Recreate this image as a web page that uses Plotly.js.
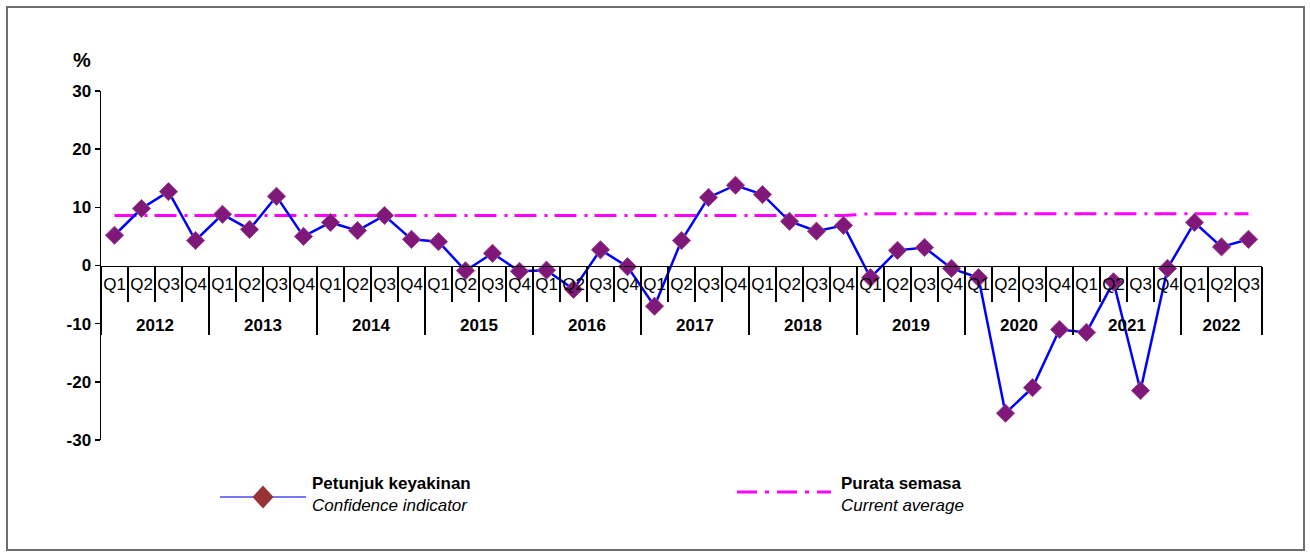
<!DOCTYPE html>
<html>
<head>
<meta charset="utf-8">
<script src="https://cdn.plot.ly/plotly-3.0.1.min.js"></script>
<style>
  html, body { margin: 0; padding: 0; background: #fff; }
  #chart { width: 1310px; height: 552px; }
</style>
</head>
<body>
<div id="chart"></div>
<script>
// tick labels
const years = ["2012", "2013", "2014", "2015", "2016", "2017", "2018", "2019", "2020", "2021", "2022"];
const quarters = ["Q1", "Q2", "Q3", "Q4"];
const yTickVals = [-30, -20, -10, 0, 10, 20, 30];
const yTickText = ["-30", "-20", "-10", "0", "10", "20", "30"];

// Petunjuk keyakinan / Confidence indicator (%), 2012Q1 .. 2022Q3
const confidence = [
  5.2, 9.8, 12.7, 4.3,
  8.8, 6.2, 11.9, 5.0,
  7.4, 6.0, 8.6, 4.5,
  4.1, -0.9, 2.1, -1.0,
  -0.8, -4.1, 2.7, -0.2,
  -7.0, 4.3, 11.7, 13.8,
  12.2, 7.6, 5.9, 6.9,
  -2.1, 2.6, 3.1, -0.5,
  -2.1, -25.4, -21.0, -11.0,
  -11.5, -2.8, -21.5, -0.5,
  7.4, 3.2, 4.5
];

// Purata semasa / Current average (%)
const currentAvg = [
  8.6, 8.6, 8.6, 8.6,
  8.6, 8.6, 8.6, 8.6,
  8.6, 8.6, 8.6, 8.6,
  8.6, 8.6, 8.6, 8.6,
  8.6, 8.6, 8.6, 8.6,
  8.6, 8.6, 8.6, 8.6,
  8.6, 8.6, 8.6, 8.6,
  8.9, 8.9, 8.9, 8.9,
  8.9, 8.9, 8.9, 8.9,
  8.9, 8.9, 8.9, 8.9,
  8.9, 8.9, 8.9
];

// two-level category labels (year / quarter) for every point
// (the leading <br> drops the year row down, as in the original)
const yearLabels = [];
const qLabels = [];
confidence.forEach((v, i) => {
  yearLabels.push("<br><b>" + years[Math.floor(i / 4)] + "</b>");
  qLabels.push(quarters[i % 4]);
});

const font = "Liberation Sans, Arial, sans-serif";

// plot area in pixels: left 101, right 1262, top 91, bottom 440
const L = 101, R = 1262, T = 91, B = 440;
const px = (x) => (x - L) / (R - L);
const py = (y) => (B - y) / (B - T);

const traces = [
  // invisible trace so the separator axis gets drawn
  {
    x: [0, confidence.length - 1],
    y: [0, 0],
    xaxis: "x2",
    mode: "lines",
    line: { width: 0 },
    hoverinfo: "skip",
  },
  {
    x: [yearLabels, qLabels],
    y: currentAvg,
    name: "Purata semasa",
    mode: "lines",
    type: "scatter",
    line: { color: "#FF00FF", width: 3, dash: "22px,8px,3px,7px" },
  },
  {
    x: [yearLabels, qLabels],
    y: confidence,
    name: "Petunjuk keyakinan",
    mode: "lines+markers",
    type: "scatter",
    line: { color: "#0000FF", width: 2.5 },
    marker: {
      symbol: "diamond",
      size: 14,
      color: "#80187A",
      line: { color: "#9C4A90", width: 1 },
    },
  },
];

// hand-made legend (sample line + diamond, two-line labels)
const dx = 10.5, dy = 11.5, cx = 263, cy = 497;
const diamondPath =
  "M " + px(cx) + "," + py(cy - dy) +
  " L " + px(cx + dx) + "," + py(cy) +
  " L " + px(cx) + "," + py(cy + dy) +
  " L " + px(cx - dx) + "," + py(cy) + " Z";

const shapes = [
  // outer frame
  {
    type: "rect", xref: "paper", yref: "paper",
    x0: px(7), x1: px(1304), y0: py(7), y1: py(550),
    line: { color: "#6E6E6E", width: 2 },
  },
  {
    type: "line", xref: "paper", yref: "paper",
    x0: px(220), x1: px(306), y0: py(497), y1: py(497),
    line: { color: "#4B4BF0", width: 1.5 },
  },
  {
    type: "path", xref: "paper", yref: "paper", path: diamondPath,
    fillcolor: "#993333", line: { color: "#993333", width: 0 },
  },
  {
    type: "line", xref: "paper", yref: "paper",
    x0: px(737), x1: px(831), y0: py(492), y1: py(492),
    line: { color: "#FF00FF", width: 3, dash: "20px,8px,4px,8px" },
  },
];

const note = (text, x, y, size, anchor) => ({
  text: text, xref: "paper", yref: "paper",
  x: px(x), y: py(y), xanchor: anchor, yanchor: "middle", showarrow: false,
  font: { family: font, size: size, color: "#000" },
});

const annotations = [
  note("<b>%</b>", 82, 60, 20, "center"),
  note("<b>Petunjuk keyakinan</b>", 310, 483, 17, "left"),
  note("<i>Confidence indicator</i>", 310, 505, 17, "left"),
  note("<b>Purata semasa</b>", 839, 483, 17, "left"),
  note("<i>Current average</i>", 839, 505, 17, "left"),
];

const layout = {
  width: 1310,
  height: 552,
  margin: { l: L, r: 1310 - R, t: T, b: 552 - B, pad: 0 },
  paper_bgcolor: "#FFFFFF",
  plot_bgcolor: "#FFFFFF",
  showlegend: false,
  xaxis: {
    type: "multicategory",
    range: [-0.5, confidence.length - 0.5],
    anchor: "free",
    position: 0.5,
    showline: true,
    linecolor: "#000",
    linewidth: 1.5,
    ticks: "",
    tickangle: 0,
    ticklabelstandoff: 3,
    showgrid: false,
    zeroline: false,
    showdividers: true,
    dividercolor: "#000",
    dividerwidth: 1.5,
    tickfont: { family: font, size: 17, color: "#000" },
  },
  // second x axis only for the short separators between quarters
  xaxis2: {
    overlaying: "x",
    anchor: "free",
    position: 0.5,
    range: [-0.5, confidence.length - 0.5],
    tick0: -0.5,
    dtick: 1,
    ticks: "outside",
    ticklen: 35,
    tickwidth: 1.5,
    tickcolor: "#000",
    showticklabels: false,
    showgrid: false,
    zeroline: false,
    showline: false,
  },
  yaxis: {
    range: [-30, 30],
    tickmode: "array",
    tickvals: yTickVals,
    ticktext: yTickText,
    showline: true,
    linecolor: "#000",
    linewidth: 1.5,
    ticks: "outside",
    ticklen: 5,
    tickwidth: 1.5,
    tickcolor: "#000",
    showgrid: false,
    zeroline: false,
    tickfont: { family: font, size: 17, color: "#000", weight: "bold" },
  },
  shapes: shapes,
  annotations: annotations,
};

Plotly.newPlot("chart", traces, layout, { displayModeBar: false, staticPlot: true });
</script>
</body>
</html>
